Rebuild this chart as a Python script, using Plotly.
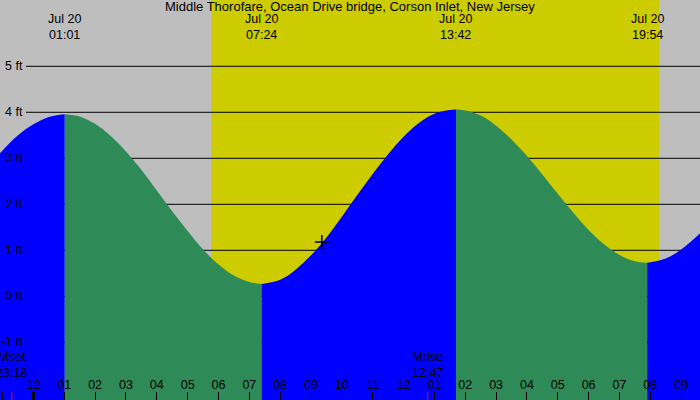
import plotly.graph_objects as go

title_text = "Middle Thorofare, Ocean Drive bridge, Corson Inlet, New Jersey"

# Tide readings (local time, feet), every half hour plus the extremes
tide_times = [
    "2023-07-19 22:30", "2023-07-19 23:00", "2023-07-19 23:30", "2023-07-20 00:00",
    "2023-07-20 00:30", "2023-07-20 01:01",
    "2023-07-20 01:30", "2023-07-20 02:00", "2023-07-20 02:30", "2023-07-20 03:00",
    "2023-07-20 03:30", "2023-07-20 04:00", "2023-07-20 04:30", "2023-07-20 05:00",
    "2023-07-20 05:30", "2023-07-20 06:00", "2023-07-20 06:30", "2023-07-20 07:00",
    "2023-07-20 07:24",
    "2023-07-20 08:00", "2023-07-20 08:30", "2023-07-20 09:00", "2023-07-20 09:30",
    "2023-07-20 10:00", "2023-07-20 10:30", "2023-07-20 11:00", "2023-07-20 11:30",
    "2023-07-20 12:00", "2023-07-20 12:30", "2023-07-20 13:00", "2023-07-20 13:30",
    "2023-07-20 13:42",
    "2023-07-20 14:00", "2023-07-20 14:30", "2023-07-20 15:00", "2023-07-20 15:30",
    "2023-07-20 16:00", "2023-07-20 16:30", "2023-07-20 17:00", "2023-07-20 17:30",
    "2023-07-20 18:00", "2023-07-20 18:30", "2023-07-20 19:00", "2023-07-20 19:30",
    "2023-07-20 19:54",
    "2023-07-20 20:30", "2023-07-20 21:00", "2023-07-20 21:30", "2023-07-20 22:00",
]
tide_heights = [
    2.79, 3.17, 3.50, 3.74,
    3.90, 3.96,
    3.91, 3.75, 3.49, 3.15,
    2.75, 2.30, 1.85, 1.42,
    1.02, 0.69, 0.45, 0.31,
    0.27,
    0.36, 0.58, 0.89, 1.28,
    1.73, 2.20, 2.66, 3.09,
    3.47, 3.77, 3.97, 4.05,
    4.06,
    4.04, 3.93, 3.71, 3.41,
    3.05, 2.65, 2.23, 1.82,
    1.44, 1.13, 0.90, 0.76,
    0.73,
    0.82, 1.02, 1.30, 1.64,
]

# High / low tide events
extreme_times = ["2023-07-20 01:01", "2023-07-20 07:24", "2023-07-20 13:42", "2023-07-20 19:54"]
extreme_dates = ["Jul 20", "Jul 20", "Jul 20", "Jul 20"]
extreme_clock = ["01:01", "07:24", "13:42", "19:54"]

# Sun and moon
sunrise = "2023-07-20 05:46"
sunset = "2023-07-20 20:17"
moon_times = ["2023-07-19 23:18", "2023-07-20 12:47"]
moon_names = ["Mset", "Mrise"]
moon_clock = ["23:18", "12:47"]

# Current time marker
now_time = ["2023-07-20 09:21"]
now_height = [1.18]

ft_levels = [-1, 0, 1, 2, 3, 4, 5]
x_range = ["2023-07-19 22:55:00", "2023-07-20 21:36:40"]
y_range = [-2.254, 6.441]
midnight = "2023-07-20 00:00"

BG = "#BEBEBE"
DAY = "#CCCC00"
RISE = "#0000FF"
FALL = "#2E8B57"
FONT = "Liberation Sans, Arial, sans-serif"
FS = 12.5

fig = go.Figure()

# split readings into rising / falling segments at the extremes
bounds = [0] + [tide_times.index(t) for t in extreme_times] + [len(tide_times) - 1]
for a, b in zip(bounds[:-1], bounds[1:]):
    if b <= a:
        continue
    xs = tide_times[a:b + 1]
    ys = tide_heights[a:b + 1]
    rising = ys[-1] > ys[0]
    fig.add_trace(go.Scatter(x=[xs[0], xs[-1]], y=[y_range[0] - 1, y_range[0] - 1],
                             mode="lines", line=dict(width=0), hoverinfo="skip",
                             showlegend=False))
    fig.add_trace(go.Scatter(x=xs, y=ys, mode="lines",
                             line=dict(width=0, shape="spline", smoothing=1.0),
                             fill="tonexty", fillcolor=RISE if rising else FALL,
                             hoverinfo="skip", showlegend=False))

fig.add_trace(go.Scatter(x=now_time, y=now_height, mode="markers",
                         marker=dict(symbol="cross-thin", size=10,
                                     line=dict(color="black", width=1.5)),
                         showlegend=False, hoverinfo="skip"))

shapes = [dict(type="rect", xref="x", yref="paper", x0=sunrise, x1=sunset, y0=0, y1=1,
               fillcolor=DAY, line=dict(width=0), layer="below")]
for v in ft_levels:
    shapes.append(dict(type="line", xref="paper", yref="y", x0=26 / 700, x1=1, y0=v, y1=v,
                       line=dict(color="black", width=1), layer="below"))
shapes.append(dict(type="line", xref="x", yref="paper", x0=midnight, x1=midnight,
                   y0=0, y1=8 / 400, line=dict(color="black", width=3), layer="above"))
for t in moon_times:
    shapes.append(dict(type="line", xref="x", yref="paper", x0=t, x1=t,
                       y0=0, y1=8 / 400, line=dict(color="red", width=1), layer="above"))

annotations = [dict(text=title_text, xref="paper", yref="paper", x=0.5, y=1 - 6.5 / 400,
                    yanchor="middle", xanchor="center", showarrow=False,
                    font=dict(size=13, color="black", family=FONT))]
for t, d, c in zip(extreme_times, extreme_dates, extreme_clock):
    annotations.append(dict(text=f"{d}<br>{c}", x=t, xref="x", yref="paper",
                            y=1 - 26.5 / 400, yanchor="middle", showarrow=False,
                            font=dict(size=FS, color="black", family=FONT)))
for t, n, c in zip(moon_times, moon_names, moon_clock):
    annotations.append(dict(text=f"{n}<br>{c}", x=t, xref="x", yref="paper",
                            y=1 - 365 / 400, yanchor="middle", showarrow=False,
                            font=dict(size=FS, color="black", family=FONT)))
for v in ft_levels:
    annotations.append(dict(text=f"{v} ft", xref="paper", x=24.5 / 700, y=v, yref="y",
                            xanchor="right", yanchor="middle", showarrow=False,
                            font=dict(size=FS, color="black", family=FONT)))

fig.update_layout(
    width=700, height=400,
    margin=dict(l=0, r=0, t=0, b=0, pad=0),
    paper_bgcolor=BG, plot_bgcolor=BG,
    shapes=shapes, annotations=annotations,
    showlegend=False,
    xaxis=dict(type="date", range=x_range, tickformat="%I", dtick=3600000,
               tick0=midnight, ticks="inside", ticklen=8, tickwidth=1, tickcolor="black",
               ticklabelposition="inside",
               tickfont=dict(size=FS, color="black", family=FONT),
               showgrid=False, zeroline=False, showline=False),
    yaxis=dict(range=y_range, showticklabels=False, showgrid=False, zeroline=False,
               showline=False, ticks=""),
)

fig.write_html("out.html")
